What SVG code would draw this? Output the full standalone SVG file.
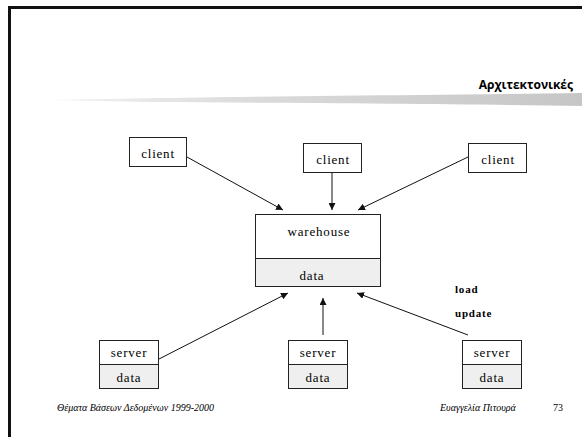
<svg xmlns="http://www.w3.org/2000/svg" width="582" height="437" viewBox="0 0 582 437">
<defs>
<style>
.box{fill:#ffffff;stroke:#222;stroke-width:1}
.dat{fill:#efefef;stroke:#222;stroke-width:1}
.lbl{font-family:'Liberation Serif','DejaVu Serif','Times New Roman',serif;font-size:13px;letter-spacing:0.8px;fill:#000;text-anchor:middle}
.bld{font-family:'Liberation Serif','DejaVu Serif','Times New Roman',serif;font-size:11px;font-weight:bold;letter-spacing:0.8px;fill:#000}
.ft{font-family:'Liberation Serif','DejaVu Serif','Times New Roman',serif;font-size:10px;font-style:italic;fill:#000}
.con{stroke:#111;stroke-width:1;fill:none;marker-end:url(#ah)}
</style>
<marker id="ah" viewBox="0 0 10 10" refX="10" refY="5" markerWidth="7" markerHeight="7" markerUnits="userSpaceOnUse" orient="auto">
<path d="M0,0 L10,5 L0,10 z" fill="#111"/>
</marker>
<linearGradient id="brush" x1="0" y1="0" x2="1" y2="0">
<stop offset="0" stop-color="#f2f2f2"/>
<stop offset="0.4" stop-color="#dadada"/>
<stop offset="1" stop-color="#c6c6c6"/>
</linearGradient>
</defs>
<rect width="582" height="437" fill="#fff"/>
<g id="frame">
<line x1="8" y1="7.5" x2="582" y2="7.5" stroke="#111" stroke-width="3"/>
<line x1="9.5" y1="6" x2="9.5" y2="437" stroke="#111" stroke-width="3"/>
</g>
<g id="title">
<path d="M50,100 C150,98 300,96 420,95 L582,93 L582,106 C470,104 300,103 150,102 Z" fill="url(#brush)"/>
<text x="573" y="89" text-anchor="end" font-family="'Open Sans','DejaVu Sans',sans-serif" font-size="12" font-weight="bold" fill="#000">Αρχιτεκτονικές</text>
</g>
<g id="connectors">
<line class="con" x1="187" y1="157" x2="283" y2="210"/>
<line class="con" x1="332" y1="172" x2="332" y2="210"/>
<line class="con" x1="468" y1="157" x2="358" y2="210"/>
<line class="con" x1="159" y1="359" x2="288" y2="293"/>
<line class="con" x1="323" y1="335" x2="323" y2="298"/>
<line class="con" x1="468" y1="335" x2="357" y2="293"/>
</g>
<g id="client1">
<rect class="box" x="129.5" y="137.5" width="57" height="29"/>
<text class="lbl" x="158" y="158">client</text>
</g>
<g id="client2">
<rect class="box" x="303.5" y="143.5" width="58" height="29"/>
<text class="lbl" x="333" y="164">client</text>
</g>
<g id="client3">
<rect class="box" x="468.5" y="143.5" width="58" height="29"/>
<text class="lbl" x="498" y="164">client</text>
</g>
<g id="warehouse">
<rect class="dat" x="255.5" y="258.5" width="125" height="28"/>
<rect class="box" x="255.5" y="214.5" width="125" height="44"/>
<text class="lbl" x="319" y="236">warehouse</text>
<text class="lbl" x="312" y="280">data</text>
</g>
<g id="server1">
<rect class="box" x="99.5" y="340.5" width="59" height="24"/>
<rect class="dat" x="99.5" y="364.5" width="59" height="24"/>
<text class="lbl" x="129" y="357">server</text>
<text class="lbl" x="129" y="382">data</text>
</g>
<g id="server2">
<rect class="box" x="288.5" y="340.5" width="59" height="24"/>
<rect class="dat" x="288.5" y="364.5" width="59" height="24"/>
<text class="lbl" x="318" y="357">server</text>
<text class="lbl" x="318" y="382">data</text>
</g>
<g id="server3">
<rect class="box" x="462.5" y="340.5" width="59" height="24"/>
<rect class="dat" x="462.5" y="364.5" width="59" height="24"/>
<text class="lbl" x="492" y="357">server</text>
<text class="lbl" x="492" y="382">data</text>
</g>
<g id="labels">
<text class="bld" x="455" y="293">load</text>
<text class="bld" x="455" y="317">update</text>
</g>
<g id="footer">
<text class="ft" x="57" y="411">Θέματα Βάσεων Δεδομένων 1999-2000</text>
<text class="ft" x="440" y="411">Ευαγγελία  Πιτουρά</text>
<text x="553" y="411" font-family="'Liberation Serif','DejaVu Serif',serif" font-size="10" fill="#000">73</text>
</g>
</svg>
